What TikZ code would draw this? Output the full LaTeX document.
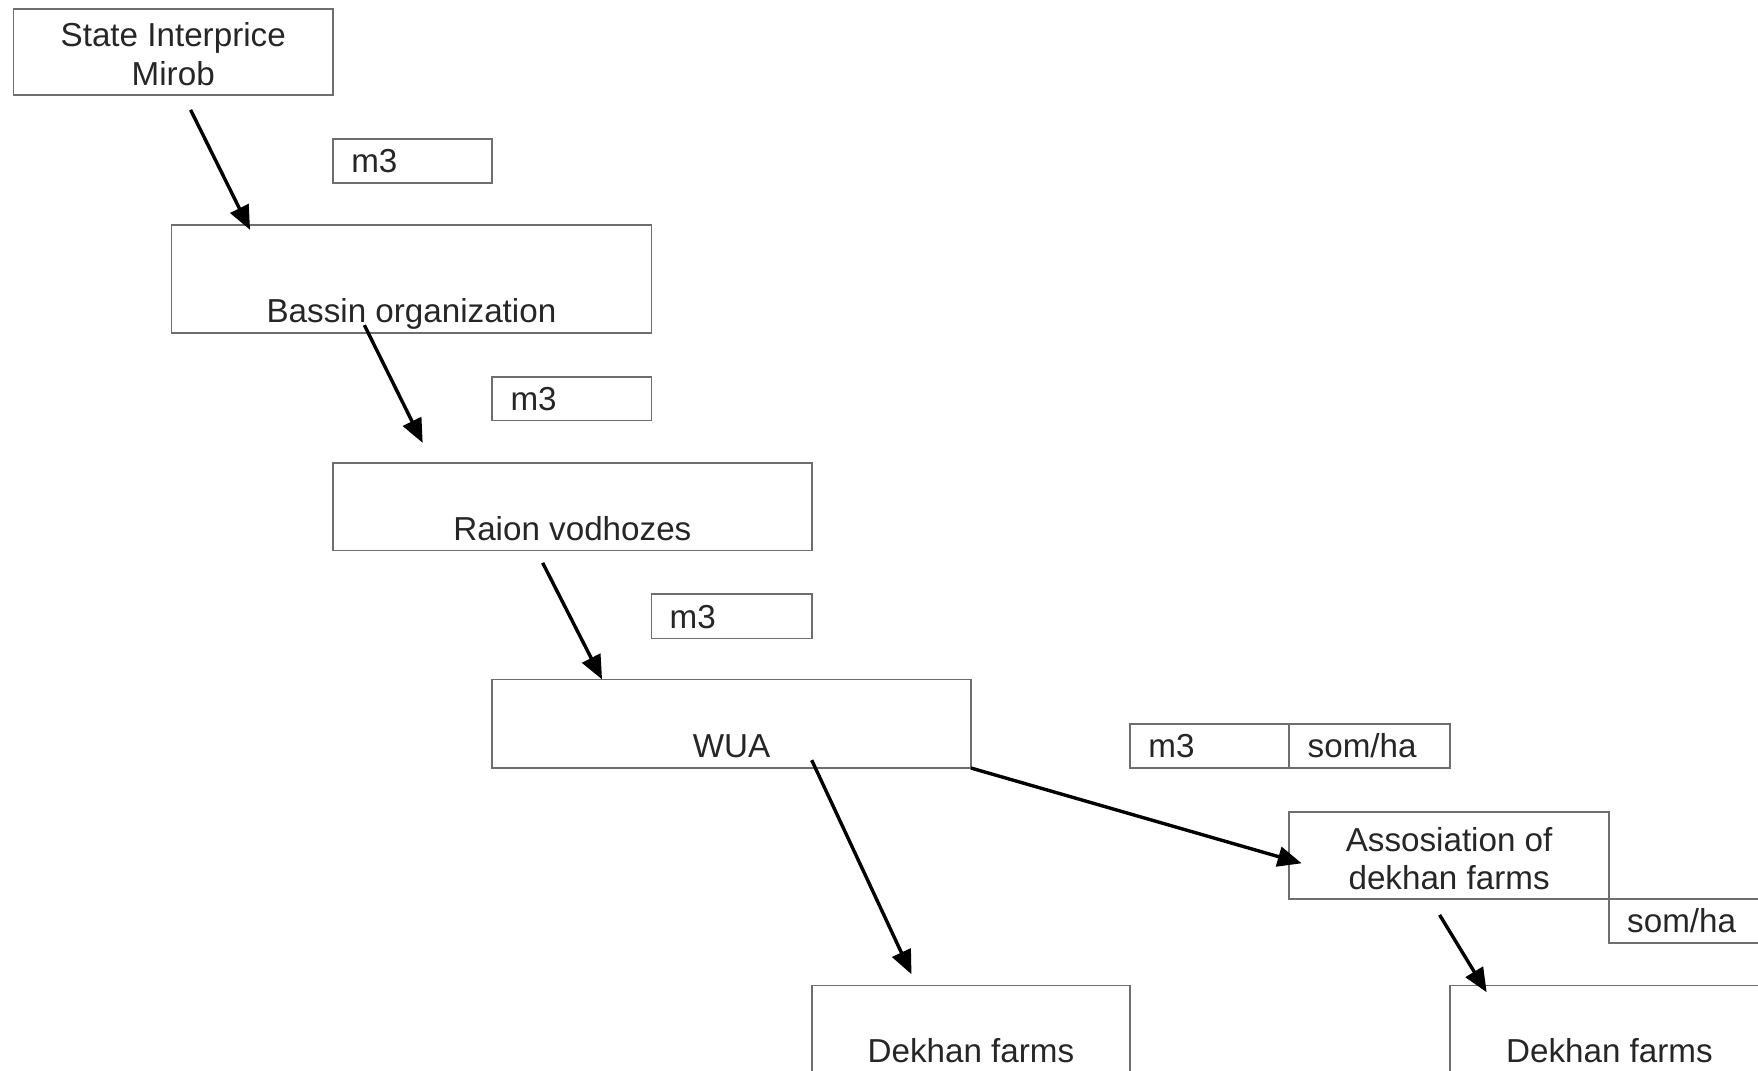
\documentclass[tikz,border=0pt]{standalone}
\usepackage{fontspec}
\setmainfont{Liberation Sans}
\usetikzlibrary{arrows.meta,fit}
\definecolor{boxgray}{RGB}{110,110,110}
\begin{document}
\begin{tikzpicture}[x=0.5606pt,y=-0.5606pt,
  box/.style={draw=boxgray, line width=0.9pt, inner sep=0pt, rectangle},
  lbl/.style={inner sep=0pt, font=\fontsize{16.6}{19.2}\selectfont, text=black!85},
  flow/.style={line width=1.7pt, -{Triangle[length=12pt,width=10pt]}}]
\useasboundingbox (0,0) rectangle (1568,955);
\clip (0,0) rectangle (1568,955);

% boxes
\node[box, fit={(12,8) (297,85)}] (state) {};
\node[box, fit={(297,124) (439,163)}] (m3a) {};
\node[box, fit={(153,201) (581,297)}] (bassin) {};
\node[box, fit={(439,336) (581,375)}] (m3b) {};
\node[box, fit={(297,413) (724,491)}] (raion) {};
\node[box, fit={(581,530) (724,569.5)}] (m3c) {};
\node[box, fit={(439,606) (866,685)}] (wua) {};
\node[box, fit={(1008,646) (1150,685)}] (m3d) {};
\node[box, fit={(1150,646) (1293,685)}] (somA) {};
\node[box, fit={(1150,724) (1435,802)}] (assoc) {};
\node[box, fit={(1435,802) (1578,841)}] (somB) {};
\node[box, fit={(724,879) (1008,957)}] (dekhanA) {};
\node[box, fit={(1293,879) (1578,957)}] (dekhanB) {};

% texts
\node[lbl, anchor=base] (tState1) at (154.5,41.5) {State Interprice};
\node[lbl, anchor=base] (tState2) at (154.5,76) {Mirob};
\node[lbl, anchor=base west] (tm3a) at (313,154) {m3};
\node[lbl, anchor=base] (tBassin) at (367,288) {Bassin organization};
\node[lbl, anchor=base west] (tm3b) at (455,366) {m3};
\node[lbl, anchor=base] (tRaion) at (510.5,482) {Raion vodhozes};
\node[lbl, anchor=base west] (tm3c) at (597,560.5) {m3};
\node[lbl, anchor=base] (tWua) at (652.5,676) {WUA};
\node[lbl, anchor=base west] (tm3d) at (1024,676) {m3};
\node[lbl, anchor=base west] (tSomA) at (1166,676) {som/ha};
\node[lbl, anchor=base] (tAssoc1) at (1292.5,759.5) {Assosiation of};
\node[lbl, anchor=base] (tAssoc2) at (1292.5,793) {dekhan farms};
\node[lbl, anchor=base west] (tSomB) at (1451,832) {som/ha};
\node[lbl, anchor=base] (tDekA) at (866,948) {Dekhan farms};
\node[lbl, anchor=base] (tDekB) at (1435.5,948) {Dekhan farms};

% arrow end points
\coordinate (a1s) at (170,98);   \coordinate (a1e) at (223,205);
\coordinate (a2s) at (325,290);  \coordinate (a2e) at (377,395);
\coordinate (a3s) at (484,502);  \coordinate (a3e) at (537,606);
\coordinate (a4s) at (724,678);  \coordinate (a4e) at (813,869);
\coordinate (a5s) at (866,685);  \coordinate (a5e) at (1161,770);
\coordinate (a6s) at (1284,816); \coordinate (a6e) at (1326,885);

\draw[flow] (a1s) -- (a1e);
\draw[flow] (a2s) -- (a2e);
\draw[flow] (a3s) -- (a3e);
\draw[flow] (a4s) -- (a4e);
\draw[flow] (a5s) -- (a5e);
\draw[flow] (a6s) -- (a6e);
\end{tikzpicture}
\end{document}
